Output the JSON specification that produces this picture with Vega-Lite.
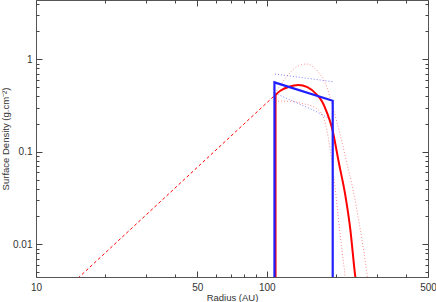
{
  "$schema": "https://vega.github.io/schema/vega-lite/v6.json",
  "width": 392,
  "height": 277,
  "autosize": "none",
  "padding": {"left": 36, "top": 0, "right": 8, "bottom": 25},
  "background": "white",
  "config": {
    "view": {"stroke": "#555555", "strokeWidth": 1},
    "axis": {
      "domain": false, "grid": false,
      "labelFont": "Liberation Sans", "titleFont": "Liberation Sans",
      "labelFontSize": 10, "titleFontSize": 9.5, "titleFontWeight": "normal",
      "labelColor": "#333333", "titleColor": "#333333",
      "tickColor": "#444444", "tickWidth": 1, "labelOverlap": false, "labelFlush": false
    }
  },
  "datasets": {
    "curves": [
      {"series": "pinkUp", "i": 0, "r": 108.6, "s": 0.43},
      {"series": "pinkUp", "i": 1, "r": 115, "s": 0.53},
      {"series": "pinkUp", "i": 2, "r": 122, "s": 0.648},
      {"series": "pinkUp", "i": 3, "r": 135, "s": 0.832},
      {"series": "pinkUp", "i": 4, "r": 149, "s": 0.89},
      {"series": "pinkUp", "i": 5, "r": 160, "s": 0.82},
      {"series": "pinkUp", "i": 6, "r": 167, "s": 0.734},
      {"series": "pinkUp", "i": 7, "r": 182, "s": 0.506},
      {"series": "pinkUp", "i": 8, "r": 194, "s": 0.295},
      {"series": "pinkUp", "i": 9, "r": 208, "s": 0.155},
      {"series": "pinkUp", "i": 10, "r": 222, "s": 0.077},
      {"series": "pinkUp", "i": 11, "r": 237, "s": 0.038},
      {"series": "pinkUp", "i": 12, "r": 252, "s": 0.0165},
      {"series": "pinkUp", "i": 13, "r": 273, "s": 0.00446},
      {"series": "pinkUp", "i": 14, "r": 276, "s": 0.0036},
      {"series": "pinkLow", "i": 0, "r": 108.6, "s": 0.354},
      {"series": "pinkLow", "i": 1, "r": 126, "s": 0.352},
      {"series": "pinkLow", "i": 2, "r": 145, "s": 0.33},
      {"series": "pinkLow", "i": 3, "r": 162, "s": 0.3},
      {"series": "pinkLow", "i": 4, "r": 175, "s": 0.245},
      {"series": "pinkLow", "i": 5, "r": 185, "s": 0.14},
      {"series": "pinkLow", "i": 6, "r": 192, "s": 0.075},
      {"series": "pinkLow", "i": 7, "r": 198, "s": 0.04},
      {"series": "pinkLow", "i": 8, "r": 205, "s": 0.018},
      {"series": "pinkLow", "i": 9, "r": 212, "s": 0.0085},
      {"series": "pinkLow", "i": 10, "r": 218.5, "s": 0.00446},
      {"series": "pinkLow", "i": 11, "r": 220, "s": 0.0036},
      {"series": "blueDotUp", "i": 0, "r": 108.6, "s": 0.694},
      {"series": "blueDotUp", "i": 1, "r": 193.2, "s": 0.573},
      {"series": "blueDotLow", "i": 0, "r": 108.6, "s": 0.43},
      {"series": "blueDotLow", "i": 1, "r": 126, "s": 0.365},
      {"series": "blueDotLow", "i": 2, "r": 140, "s": 0.325},
      {"series": "blueDotLow", "i": 3, "r": 165, "s": 0.27},
      {"series": "blueDotLow", "i": 4, "r": 191.3, "s": 0.22},
      {"series": "redDash", "i": 0, "r": 15.2, "s": 0.0043},
      {"series": "redDash", "i": 1, "r": 109.2, "s": 0.415},
      {"series": "redEdge", "i": 0, "r": 109.2, "s": 0.001},
      {"series": "redEdge", "i": 1, "r": 109.2, "s": 0.415},
      {"series": "red", "i": 0, "r": 109.2, "s": 0.415},
      {"series": "red", "i": 1, "r": 115, "s": 0.46},
      {"series": "red", "i": 2, "r": 125, "s": 0.505},
      {"series": "red", "i": 3, "r": 137, "s": 0.527},
      {"series": "red", "i": 4, "r": 150, "s": 0.5},
      {"series": "red", "i": 5, "r": 164, "s": 0.42},
      {"series": "red", "i": 6, "r": 174, "s": 0.348},
      {"series": "red", "i": 7, "r": 183, "s": 0.26},
      {"series": "red", "i": 8, "r": 192, "s": 0.18},
      {"series": "red", "i": 9, "r": 205, "s": 0.078},
      {"series": "red", "i": 10, "r": 219, "s": 0.034},
      {"series": "red", "i": 11, "r": 230, "s": 0.0149},
      {"series": "red", "i": 12, "r": 242, "s": 0.00446},
      {"series": "red", "i": 13, "r": 244, "s": 0.0038},
      {"series": "blue", "i": 0, "r": 108, "s": 0.001},
      {"series": "blue", "i": 1, "r": 108, "s": 0.564},
      {"series": "blue", "i": 2, "r": 193.2, "s": 0.357},
      {"series": "blue", "i": 3, "r": 193.2, "s": 0.001}
    ]
  },
  "data": {"name": "curves"},
  "resolve": {"axis": {"x": "independent", "y": "independent"}},
  "layer": [
    {
      "transform": [{"filter": "datum.series == 'pinkUp'"}],
      "mark": {"type": "line", "clip": true, "color": "#ff0000", "opacity": 0.45, "strokeWidth": 1, "strokeDash": [1, 2], "interpolate": "monotone"},
      "encoding": {
        "x": {"field": "r", "type": "quantitative", "scale": {"type": "log", "domain": [10, 500]},
              "axis": {"orient": "bottom", "values": [10, 50, 100, 500], "format": "~g", "ticks": false, "labelPadding": 5, "title": "Radius (AU)", "titlePadding": 0}},
        "y": {"field": "s", "type": "quantitative", "scale": {"type": "log", "domain": [0.00443, 4.38]},
              "axis": {"orient": "left", "values": [0.01, 0.1, 1], "format": "~g", "ticks": false, "labelPadding": 4, "title": "Surface Density (g.cm⁻²)", "titlePadding": 2}},
        "order": {"field": "i"}
      }
    },
    {
      "transform": [{"filter": "datum.series == 'pinkLow'"}],
      "mark": {"type": "line", "clip": true, "color": "#ff0000", "opacity": 0.45, "strokeWidth": 1, "strokeDash": [1, 2], "interpolate": "monotone"},
      "encoding": {
        "x": {"field": "r", "type": "quantitative", "scale": {"type": "log", "domain": [10, 500]},
              "axis": {"orient": "bottom", "values": [10, 50, 100, 500], "labels": false, "tickSize": -6, "title": null}},
        "y": {"field": "s", "type": "quantitative", "scale": {"type": "log", "domain": [0.00443, 4.38]},
              "axis": {"orient": "left", "values": [0.01, 0.1, 1], "labels": false, "tickSize": -6, "title": null}},
        "order": {"field": "i"}
      }
    },
    {
      "transform": [{"filter": "datum.series == 'blueDotUp'"}],
      "mark": {"type": "line", "clip": true, "color": "#0000ff", "opacity": 0.5, "strokeWidth": 1, "strokeDash": [1, 2]},
      "encoding": {
        "x": {"field": "r", "type": "quantitative", "scale": {"type": "log", "domain": [10, 500]},
              "axis": {"orient": "bottom", "values": [20, 30, 40, 60, 70, 80, 90, 200, 300, 400], "labels": false, "tickSize": -3, "title": null}},
        "y": {"field": "s", "type": "quantitative", "scale": {"type": "log", "domain": [0.00443, 4.38]},
              "axis": {"orient": "left", "values": [0.005, 0.006, 0.007, 0.008, 0.009, 0.02, 0.03, 0.04, 0.05, 0.06, 0.07, 0.08, 0.09, 0.2, 0.3, 0.4, 0.5, 0.6, 0.7, 0.8, 0.9, 2, 3, 4], "labels": false, "tickSize": -3, "title": null}},
        "order": {"field": "i"}
      }
    },
    {
      "transform": [{"filter": "datum.series == 'blueDotLow'"}],
      "mark": {"type": "line", "clip": true, "color": "#0000ff", "opacity": 0.5, "strokeWidth": 1, "strokeDash": [1, 2], "interpolate": "monotone"},
      "encoding": {
        "x": {"field": "r", "type": "quantitative", "scale": {"type": "log", "domain": [10, 500]},
              "axis": {"orient": "top", "values": [10, 50, 100, 500], "labels": false, "tickSize": -6, "title": null}},
        "y": {"field": "s", "type": "quantitative", "scale": {"type": "log", "domain": [0.00443, 4.38]},
              "axis": {"orient": "right", "values": [0.01, 0.1, 1], "labels": false, "tickSize": -6, "title": null}},
        "order": {"field": "i"}
      }
    },
    {
      "transform": [{"filter": "datum.series == 'redDash'"}],
      "mark": {"type": "line", "clip": true, "color": "#ff0000", "strokeWidth": 1, "strokeDash": [3, 2.5]},
      "encoding": {
        "x": {"field": "r", "type": "quantitative", "scale": {"type": "log", "domain": [10, 500]},
              "axis": {"orient": "top", "values": [20, 30, 40, 60, 70, 80, 90, 200, 300, 400], "labels": false, "tickSize": -3, "title": null}},
        "y": {"field": "s", "type": "quantitative", "scale": {"type": "log", "domain": [0.00443, 4.38]},
              "axis": {"orient": "right", "values": [0.005, 0.006, 0.007, 0.008, 0.009, 0.02, 0.03, 0.04, 0.05, 0.06, 0.07, 0.08, 0.09, 0.2, 0.3, 0.4, 0.5, 0.6, 0.7, 0.8, 0.9, 2, 3, 4], "labels": false, "tickSize": -3, "title": null}},
        "order": {"field": "i"}
      }
    },
    {
      "transform": [{"filter": "datum.series == 'redEdge'"}],
      "mark": {"type": "line", "clip": true, "color": "#ff0000", "strokeWidth": 2},
      "encoding": {
        "x": {"field": "r", "type": "quantitative", "scale": {"type": "log", "domain": [10, 500]}, "axis": null},
        "y": {"field": "s", "type": "quantitative", "scale": {"type": "log", "domain": [0.00443, 4.38]}, "axis": null},
        "order": {"field": "i"}
      }
    },
    {
      "transform": [{"filter": "datum.series == 'red'"}],
      "mark": {"type": "line", "clip": true, "color": "#ff0000", "strokeWidth": 2, "interpolate": "monotone"},
      "encoding": {
        "x": {"field": "r", "type": "quantitative", "scale": {"type": "log", "domain": [10, 500]}, "axis": null},
        "y": {"field": "s", "type": "quantitative", "scale": {"type": "log", "domain": [0.00443, 4.38]}, "axis": null},
        "order": {"field": "i"}
      }
    },
    {
      "transform": [{"filter": "datum.series == 'blue'"}],
      "mark": {"type": "line", "clip": true, "color": "#1f1fff", "strokeWidth": 2.2},
      "encoding": {
        "x": {"field": "r", "type": "quantitative", "scale": {"type": "log", "domain": [10, 500]}, "axis": null},
        "y": {"field": "s", "type": "quantitative", "scale": {"type": "log", "domain": [0.00443, 4.38]}, "axis": null},
        "order": {"field": "i"}
      }
    }
  ]
}
